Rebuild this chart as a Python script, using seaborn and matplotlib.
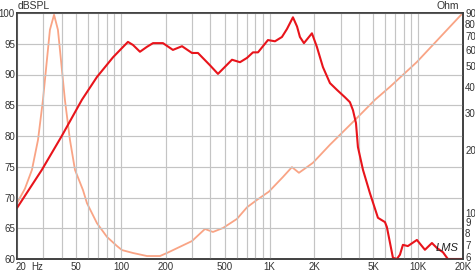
import matplotlib
matplotlib.use("Agg")
import matplotlib.pyplot as plt
from matplotlib.ticker import FixedLocator, NullLocator, NullFormatter
from matplotlib.transforms import ScaledTranslation
import seaborn as sns
import pandas as pd

# ---- data ----
spl_freq = [20, 29.4, 40, 54.7, 69, 88.5, 101.6, 111.5, 120.6, 134.3, 149.7, 164.4,
            191.8, 223.8, 257.6, 300.6, 329.8, 397.3, 449.6, 558.6, 632.5, 704.9,
            773.2, 835.8, 975, 1087, 1211, 1309, 1436, 1530, 1600, 1703, 1927, 2080,
            2285, 2548, 2839, 3213, 3470, 3638, 3812, 3929, 4248, 4732, 5357, 5971,
            6152, 6757, 7178, 7532, 7887, 8514, 9795, 11090, 12360, 13340, 14660,
            15820, 20000]
spl_db = [68.3, 74.5, 80.0, 85.9, 89.6, 92.8, 94.3, 95.3, 94.8, 93.7, 94.5, 95.1,
          95.1, 94.0, 94.6, 93.5, 93.5, 91.5, 90.1, 92.4, 92.0, 92.7,
          93.6, 93.6, 95.6, 95.4, 96.1, 97.4, 99.3, 97.8, 96.1, 95.1, 96.7, 94.5,
          91.2, 88.6, 87.5, 86.3, 85.5, 84.2, 82.1, 78.2, 74.5, 70.7, 66.7, 66.0,
          65.2, 60.2, 60.0, 60.7, 62.3, 62.1, 63.1, 61.5, 62.6, 61.8, 61.1,
          60.0, 60.0]

imp_freq = [20, 22.6, 25.2, 27.7, 29.9, 31.8, 33.3, 35.5, 37.7, 39.5, 42.0, 45.4,
            49.1, 55.6, 59.1, 69.0, 80.6, 94.1, 101.6, 120.6, 149.7, 183.1, 204.0,
            300.6, 367.6, 416, 485.8, 603.4, 704.9, 822.3, 990.4, 1230, 1414, 1576,
            1784, 1957, 2546, 3750, 5112, 6448, 9795, 20000]
imp_ohm = [11.1, 13.0, 16.0, 22.3, 34.6, 53.8, 74.8, 88.3, 74.8, 53.8, 34.6, 22.3,
           16.0, 12.8, 11.1, 8.9, 7.65, 6.92, 6.62, 6.41, 6.2, 6.2, 6.41,
           7.31, 8.35, 8.08, 8.44, 9.33, 10.6, 11.5, 12.6, 14.8, 16.5, 15.5,
           16.5, 17.3, 21.1, 27.7, 34.6, 39.9, 52.5, 90.2]

x_ticks = [20, 50, 100, 200, 500, 1000, 2000, 5000, 10000, 20000]
x_labels = ["20", "50", "100", "200", "500", "1K", "2K", "5K", "10K", "20K"]
y_ticks = [60, 65, 70, 75, 80, 85, 90, 95, 100]
ohm_ticks = [6, 7, 8, 9, 10, 20, 30, 40, 50, 60, 70, 80, 90]

# ---- styling ----
sns.set_style("white")
plt.rcParams["font.family"] = ["Liberation Sans", "DejaVu Sans"]

RED = "#e8141b"
SALMON = "#f9a485"
GRID = "#c4c4c4"
SPINE = "#3a3a3a"
TXT = "#333333"

fig = plt.figure(figsize=(4.75, 2.71), dpi=100)
ax = fig.add_axes([17 / 475, 1 - 259 / 271, (463 - 17) / 475, (259 - 13) / 271])
ax2 = ax.twinx()

spl_df = pd.DataFrame({"f": spl_freq, "db": spl_db})
imp_df = pd.DataFrame({"f": imp_freq, "ohm": imp_ohm})

sns.lineplot(data=imp_df, x="f", y="ohm", ax=ax2, color=SALMON, lw=1.3,
             estimator=None, sort=False)
sns.lineplot(data=spl_df, x="f", y="db", ax=ax, color=RED, lw=1.5,
             estimator=None, sort=False)

ax.set_xscale("log")
ax.set_xlim(20, 20000)
ax.set_ylim(60, 100)
ax2.set_yscale("log")
ax2.set_ylim(6, 90)

minor = []
for dec in [10, 100, 1000, 10000]:
    for m in range(1, 10):
        v = m * dec
        if 20 <= v <= 20000 and v not in x_ticks:
            minor.append(v)
ax.xaxis.set_major_locator(FixedLocator(x_ticks))
ax.set_xticklabels(x_labels)
ax.xaxis.set_minor_locator(FixedLocator(minor))
ax.xaxis.set_minor_formatter(NullFormatter())
ax.set_yticks(y_ticks)
ax.set_yticklabels([str(v) for v in y_ticks])

ax2.yaxis.set_major_locator(FixedLocator(ohm_ticks))
ax2.set_yticklabels([str(v) for v in ohm_ticks])
ax2.yaxis.set_minor_locator(NullLocator())

ax.grid(True, which="both", axis="x", color=GRID, lw=0.85)
ax.grid(True, which="major", axis="y", color=GRID, lw=0.85)
ax2.grid(False)

for a in (ax, ax2):
    a.set_xlabel("")
    a.set_ylabel("")
    for s in a.spines.values():
        s.set_color(SPINE)
        s.set_linewidth(1.1)
    a.tick_params(which="both", length=0, labelsize=7, colors=TXT, pad=1.5)
ax.tick_params(axis="x", pad=2.2)

ax.set_zorder(ax2.get_zorder() + 1)
ax.patch.set_visible(False)

# nudge the first x label right (as in the reference) and the lowest Ohm label up
xl = ax.get_xticklabels()
xl[0].set_transform(xl[0].get_transform() + ScaledTranslation(4 / 100, 0, fig.dpi_scale_trans))
yl2 = ax2.get_yticklabels()
yl2[0].set_transform(yl2[0].get_transform() + ScaledTranslation(0, 2 / 100, fig.dpi_scale_trans))

fig.text(18 / 475, 1 - 6 / 271, "dBSPL", fontsize=7.5, color=TXT, va="center", ha="left")
fig.text(459 / 475, 1 - 6 / 271, "Ohm", fontsize=7.5, color=TXT, va="center", ha="right")
fig.text(31 / 475, 1 - 267 / 271, "Hz", fontsize=7, color=TXT, va="center", ha="left")
fig.text(447 / 475, 1 - 248 / 271, "LMS", fontsize=8, color="#222222", va="center",
         ha="center", fontstyle="italic")

fig.savefig("out.png", dpi=100)
